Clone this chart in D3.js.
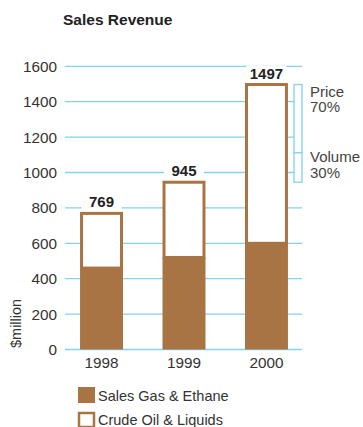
<!DOCTYPE html>
<html>
<head>
<meta charset="utf-8">
<script src="https://cdn.jsdelivr.net/npm/d3@7"></script>
<style>
    body { margin: 0; background: #fff; }
    text { font-family: "Liberation Sans", Arial, sans-serif; }
</style>
</head>
<body>
<script>
    var years = ["1998", "1999", "2000"];
    var gasValues = [460, 520, 600];
    var totalValues = [769, 945, 1497];
    var yTicks = [0, 200, 400, 600, 800, 1000, 1200, 1400, 1600];
    var splitLabels = [["Price", "70%"], ["Volume", "30%"]];
    var splitShares = [0.7, 0.3];
    var legendLabels = ["Sales Gas & Ethane", "Crude Oil & Liquids"];

    var brown = "#a97443";
    var blue = "#84d2f2";
    var textCol = "#333";

    var svg = d3.select("body")
        .append("svg")
        .attr("width", 363)
        .attr("height", 427);

    var yScale = d3.scaleLinear()
        .domain([0, 1600])
        .range([349.5, 66.3]);

    var xScale = d3.scaleBand()
        .domain(years)
        .range([60, 308])
        .paddingInner(0.479)
        .paddingOuter(0.243);

    svg.append("text")
        .attr("x", 63)
        .attr("y", 25)
        .attr("fill", "#222")
        .style("font-size", "15.5px")
        .style("font-weight", "bold")
        .text("Sales Revenue");

    // gridlines
    svg.append("g")
        .selectAll("line")
        .data(yTicks)
        .enter()
        .append("line")
        .attr("x1", 65)
        .attr("x2", 302)
        .attr("y1", function(d) { return yScale(d); })
        .attr("y2", function(d) { return yScale(d); })
        .attr("stroke", blue)
        .attr("stroke-width", 1.3);

    var yAxis = svg.append("g")
        .attr("transform", "translate(62,0)")
        .call(d3.axisLeft(yScale).tickValues(yTicks).tickFormat(d3.format("d")).tickSize(0).tickPadding(5));
    yAxis.select(".domain").remove();
    yAxis.selectAll("text")
        .attr("fill", textCol)
        .style("font-size", "15.3px")
        .style("font-family", "'Liberation Sans', Arial, sans-serif");

    svg.append("text")
        .attr("transform", "translate(21,348) rotate(-90)")
        .attr("fill", textCol)
        .style("font-size", "14.5px")
        .text("$million");

    var bw = xScale.bandwidth();

    // crude oil (outline part)
    svg.append("g")
        .selectAll("rect")
        .data(years)
        .enter()
        .append("rect")
        .attr("x", function(d) { return xScale(d) + 1.5; })
        .attr("width", bw - 3)
        .attr("y", function(d, i) { return yScale(totalValues[i]); })
        .attr("height", function(d, i) { return yScale(gasValues[i]) - yScale(totalValues[i]); })
        .attr("fill", "#fff")
        .attr("stroke", brown)
        .attr("stroke-width", 3);

    // sales gas (filled part)
    svg.append("g")
        .selectAll("rect")
        .data(years)
        .enter()
        .append("rect")
        .attr("x", function(d) { return xScale(d); })
        .attr("width", bw)
        .attr("y", function(d, i) { return yScale(gasValues[i]); })
        .attr("height", function(d, i) { return yScale(0) - yScale(gasValues[i]); })
        .attr("fill", brown);

    // total labels
    var labels = svg.append("g")
        .selectAll("g")
        .data(years)
        .enter()
        .append("g");

    labels.append("rect")
        .attr("x", function(d) { return xScale(d) + bw / 2 - 20; })
        .attr("y", function(d, i) { return yScale(totalValues[i]) - 19; })
        .attr("width", 40)
        .attr("height", 16)
        .attr("fill", "#fff");

    labels.append("text")
        .attr("x", function(d) { return xScale(d) + bw / 2; })
        .attr("y", function(d, i) { return yScale(totalValues[i]) - 6; })
        .attr("text-anchor", "middle")
        .attr("fill", "#222")
        .style("font-size", "15px")
        .style("font-weight", "bold")
        .text(function(d, i) { return totalValues[i]; });

    // year labels
    svg.append("g")
        .selectAll("text")
        .data(years)
        .enter()
        .append("text")
        .attr("x", function(d) { return xScale(d) + bw / 2; })
        .attr("y", 368)
        .attr("text-anchor", "middle")
        .attr("fill", textCol)
        .style("font-size", "15.3px")
        .text(function(d) { return d; });

    // price / volume bracket for the 1999 -> 2000 increase
    var prev = totalValues[1], cur = totalValues[2];
    var rise = cur - prev;
    var splitVal = cur - rise * splitShares[0];
    var segs = [[cur, splitVal], [splitVal, prev]];

    svg.append("g")
        .selectAll("rect")
        .data(segs)
        .enter()
        .append("rect")
        .attr("x", 294)
        .attr("width", 8)
        .attr("y", function(d) { return yScale(d[0]); })
        .attr("height", function(d) { return yScale(d[1]) - yScale(d[0]); })
        .attr("fill", "#fff")
        .attr("stroke", blue)
        .attr("stroke-width", 1.3);

    var segText = svg.append("g")
        .selectAll("text")
        .data(segs)
        .enter()
        .append("text")
        .attr("x", 310)
        .attr("y", function(d, i) { return i == 0 ? yScale(d[0]) + 12 : yScale(d[0]) + 9; })
        .attr("fill", "#444")
        .style("font-size", "15px");

    segText.append("tspan")
        .attr("x", 310)
        .text(function(d, i) { return splitLabels[i][0]; });
    segText.append("tspan")
        .attr("x", 310)
        .attr("dy", 15.8)
        .text(function(d, i) { return splitLabels[i][1]; });

    // legend
    var legend = svg.append("g");
    legend.append("rect")
        .attr("x", 78).attr("y", 387)
        .attr("width", 17).attr("height", 16)
        .attr("fill", brown);
    legend.append("rect")
        .attr("x", 79).attr("y", 413)
        .attr("width", 15).attr("height", 14)
        .attr("fill", "#fff")
        .attr("stroke", brown)
        .attr("stroke-width", 2.5);

    legend.selectAll("text")
        .data(legendLabels)
        .enter()
        .append("text")
        .attr("x", 98)
        .attr("y", function(d, i) { return 401 + i * 24; })
        .attr("fill", textCol)
        .style("font-size", "14.5px")
        .text(function(d) { return d; });
</script>
</body>
</html>
